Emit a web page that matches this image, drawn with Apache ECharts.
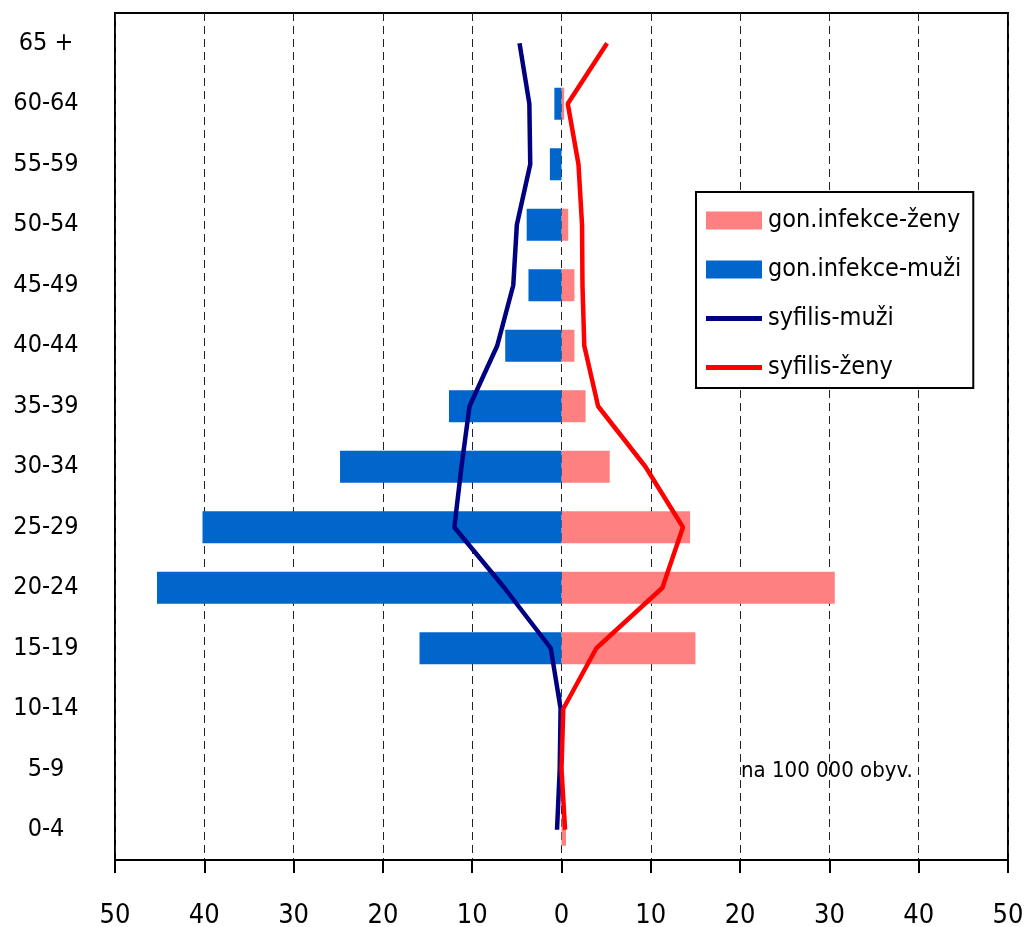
<!DOCTYPE html>
<html>
<head>
<meta charset="utf-8">
<script src="https://cdn.jsdelivr.net/npm/echarts@6/dist/echarts.min.js"></script>
<style>
  html, body { margin: 0; padding: 0; background: #fff; }
  #chart { width: 1026px; height: 927px; }
</style>
</head>
<body>
<div id="chart"></div>
<script>
// vekove skupiny, zdola nahoru
var ageGroups = ['0-4', '5-9', '10-14', '15-19', '20-24', '25-29', '30-34', '35-39', '40-44', '45-49', '50-54', '55-59', '60-64', '65 +'];

// gonokokove infekce (na 100 000 obyv.), muzi zaporne
var gonZeny = [0.5, 0, 0, 15.0, 30.6, 14.4, 5.4, 2.7, 1.45, 1.45, 0.75, 0, 0.3, null];
var gonMuzi = [0, 0, -0.3, -15.9, -45.3, -40.2, -24.8, -12.6, -6.3, -3.7, -3.9, -1.3, -0.8, null];

// syfilis
var syfMuzi = [-0.5, -0.2, -0.1, -1.2, -6.4, -12.0, -11.2, -10.3, -7.2, -5.4, -5.0, -3.5, -3.6, -4.7];
var syfZeny = [0.4, 0.0, 0.2, 3.9, 11.3, 13.6, 9.4, 4.1, 2.55, 2.35, 2.3, 1.9, 0.7, 5.1];

var xTicks = [-50, 50, 10];

var fontNarrow = "'Liberation Sans Narrow', 'DejaVu Sans Condensed', 'Liberation Sans', sans-serif";
var lineIcon = 'path://M0,0L56,0L56,5L0,5Z';

var chart = echarts.init(document.getElementById('chart'));

var option = {
    backgroundColor: '#fff',
    animation: false,
    textStyle: { fontFamily: fontNarrow },
    grid: {
        left: 115,
        right: 18,
        top: 13,
        bottom: 67,
        containLabel: false,
        outerBoundsMode: 'none',
        show: true,
        borderColor: '#000',
        borderWidth: 2
    },
    legend: {
        orient: 'vertical',
        left: 696,
        top: 192,
        padding: [16, 12, 8, 10],
        itemGap: 24,
        itemWidth: 56,
        itemHeight: 18,
        borderColor: '#000',
        borderWidth: 2,
        backgroundColor: '#fff',
        textStyle: { fontSize: 25, color: '#000', fontFamily: fontNarrow, padding: [0, 0, 0, 1] },
        data: [
            { name: 'gon.infekce-ženy', icon: 'rect' },
            { name: 'gon.infekce-muži', icon: 'rect' },
            { name: 'syfilis-muži', icon: lineIcon },
            { name: 'syfilis-ženy', icon: lineIcon }
        ]
    },
    xAxis: {
        type: 'value',
        min: xTicks[0],
        max: xTicks[1],
        interval: xTicks[2],
        axisLine: { show: true, onZero: false, lineStyle: { color: '#000', width: 2 } },
        axisTick: { show: true, inside: false, length: 13, lineStyle: { color: '#000', width: 2 } },
        axisLabel: {
            margin: 42,
            fontSize: 27,
            color: '#000',
            fontFamily: fontNarrow,
            formatter: function (v) { return Math.abs(v); }
        },
        splitLine: {
            show: true,
            lineStyle: { color: '#222', type: [8, 5], width: 1 }
        }
    },
    yAxis: {
        type: 'category',
        data: ageGroups,
        axisLine: { show: false },
        axisTick: { show: false },
        axisLabel: {
            margin: 69,
            align: 'center',
            fontSize: 25,
            color: '#000',
            fontFamily: fontNarrow
        },
        splitLine: { show: false }
    },
    series: [
        {
            name: 'gon.infekce-ženy',
            type: 'bar',
            data: gonZeny,
            barWidth: 32,
            barGap: '-100%',
            itemStyle: { color: '#FF8080' },
            z: 2
        },
        {
            name: 'gon.infekce-muži',
            type: 'bar',
            data: gonMuzi,
            barWidth: 32,
            barGap: '-100%',
            itemStyle: { color: '#0066CC' },
            z: 2
        },
        {
            name: 'syfilis-muži',
            type: 'line',
            data: syfMuzi,
            symbol: 'none',
            lineStyle: { color: '#000080', width: 4.5 },
            itemStyle: { color: '#000080' },
            z: 3
        },
        {
            name: 'syfilis-ženy',
            type: 'line',
            data: syfZeny,
            symbol: 'none',
            lineStyle: { color: '#FF0000', width: 4.5 },
            itemStyle: { color: '#FF0000' },
            z: 3
        }
    ],
    graphic: [{
        type: 'text',
        left: 741,
        top: 760,
        style: {
            text: 'na 100 000 obyv.',
            fontSize: 22,
            fontFamily: fontNarrow,
            fill: '#000'
        }
    }]
};

chart.setOption(option);
</script>
</body>
</html>
